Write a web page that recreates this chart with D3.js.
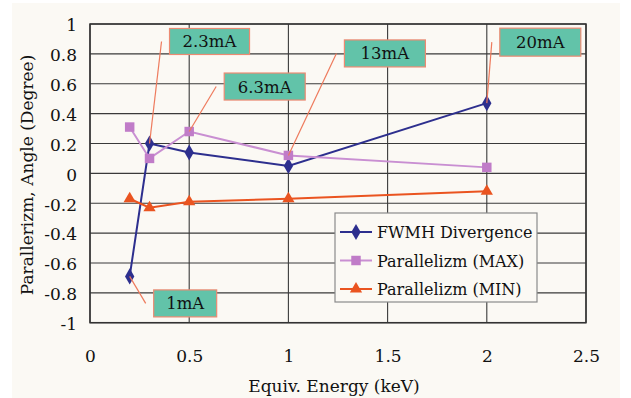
<!DOCTYPE html>
<html>
<head>
<meta charset="utf-8">
<script src="https://cdn.jsdelivr.net/npm/d3@7"></script>
<style>
  body { margin: 0; background: #ffffff; }
  svg text { font-family: "DejaVu Serif", serif; fill: #111; }
</style>
</head>
<body>
<div id="chart"></div>
<script>
// data
var energy = [0.2, 0.3, 0.5, 1, 2];
var fwmh = [-0.69, 0.2, 0.14, 0.05, 0.47];
var parMax = [0.31, 0.1, 0.28, 0.12, 0.04];
var parMin = [-0.17, -0.23, -0.19, -0.17, -0.12];
var seriesNames = ["FWMH Divergence", "Parallelizm (MAX)", "Parallelizm (MIN)"];
var xTicks = [0, 0.5, 1, 1.5, 2, 2.5];
var yTicks = [-1, -0.8, -0.6, -0.4, -0.2, 0, 0.2, 0.4, 0.6, 0.8, 1];
var currentLabels = ["1mA", "2.3mA", "6.3mA", "13mA", "20mA"];
var currentSeries = [0, 0, 1, 1, 0];   // which series each label points at
var currentIndex = [0, 1, 2, 3, 4];

// callout box placement (pixels, relative to the marker)
var calloutLayout = [
  {dx: 24, dy: 27, w: 63, h: 27},
  {dx: 20, dy: -102, w: 80, h: 26},
  {dx: 35, dy: -45, w: 81, h: 27},
  {dx: 56, dy: -102, w: 81, h: 27},
  {dx: 13, dy: -61, w: 81, h: 28}
];

var width = 631, height = 398;
var margin = {top: 24, right: 45, bottom: 75, left: 90};
var fs = 17;

var svg = d3.select("#chart").append("svg")
    .attr("width", width)
    .attr("height", height);

svg.append("rect")
    .attr("x", 12).attr("y", 3)
    .attr("width", 608).attr("height", 395)
    .attr("fill", "#fbf9f4");

var x = d3.scaleLinear().domain([0, 2.5]).range([margin.left, 586]);
var y = d3.scaleLinear().domain([-1, 1]).range([322.7, margin.top]);

var grid = svg.append("g");
grid.selectAll(".hgrid")
    .data(yTicks)
    .enter().append("line")
    .attr("x1", x(0)).attr("x2", x(2.5))
    .attr("y1", function(d) { return y(d); })
    .attr("y2", function(d) { return y(d); })
    .attr("stroke", "#3a3a3a")
    .attr("stroke-width", 1.1);
grid.selectAll(".vgrid")
    .data(xTicks)
    .enter().append("line")
    .attr("y1", y(-1)).attr("y2", y(1))
    .attr("x1", function(d) { return x(d); })
    .attr("x2", function(d) { return x(d); })
    .attr("stroke", "#3a3a3a")
    .attr("stroke-width", 1.1);

svg.append("rect")
    .attr("x", x(0)).attr("y", y(1))
    .attr("width", x(2.5) - x(0)).attr("height", y(-1) - y(1))
    .attr("fill", "none")
    .attr("stroke", "#333")
    .attr("stroke-width", 1.5);

// tick labels via d3 axes, lines hidden (plain hyphen minus like the original)
var yAxis = svg.append("g")
    .attr("transform", "translate(" + (margin.left - 13) + ",0)")
    .call(d3.axisLeft(y).tickValues(yTicks).tickSize(0).tickPadding(0)
      .tickFormat(function(d) { return String(+d.toFixed(1)); }));
yAxis.select(".domain").remove();
yAxis.selectAll("text")
    .attr("font-size", fs)
    .attr("dy", "0.4em");

var xAxis = svg.append("g")
    .attr("transform", "translate(0,362)")
    .call(d3.axisBottom(x).tickValues(xTicks).tickSize(0).tickPadding(0)
      .tickFormat(function(d) { return String(d); }));
xAxis.select(".domain").remove();
xAxis.selectAll("text")
    .attr("font-size", fs)
    .attr("dy", 0);

svg.append("text")
    .attr("x", 334).attr("y", 392)
    .attr("text-anchor", "middle")
    .attr("font-size", fs)
    .text("Equiv. Energy (keV)");

svg.append("text")
    .attr("transform", "translate(33," + 175 + ") rotate(-90)")
    .attr("text-anchor", "middle")
    .attr("font-size", fs)
    .text("Parallerizm, Angle (Degree)");

var series = [
  {name: seriesNames[0], values: fwmh, color: "#2d2f8e", line: "#2d2f8e", shape: d3.symbolDiamond, size: 75},
  {name: seriesNames[1], values: parMax, color: "#c07cc8", line: "#c98fd2", shape: d3.symbolSquare, size: 90},
  {name: seriesNames[2], values: parMin, color: "#ea5420", line: "#ea5420", shape: d3.symbolTriangle, size: 65}
];

var line = d3.line()
    .x(function(d) { return x(d[0]); })
    .y(function(d) { return y(d[1]); });

series.forEach(function(s) {
  var pts = energy.map(function(e, i) { return [e, s.values[i]]; });
  svg.append("path")
      .attr("d", line(pts))
      .attr("fill", "none")
      .attr("stroke", s.line)
      .attr("stroke-width", 2);
});

series.forEach(function(s) {
  var pts = energy.map(function(e, i) { return [e, s.values[i]]; });
  svg.selectAll(null)
      .data(pts)
      .enter().append("path")
      .attr("transform", function(d) { return "translate(" + x(d[0]) + "," + y(d[1]) + ")"; })
      .attr("d", d3.symbol().type(s.shape).size(s.size))
      .attr("fill", s.color);
});

// current callouts
var callouts = svg.append("g");
currentLabels.forEach(function(lbl, i) {
  var s = series[currentSeries[i]];
  var px = x(energy[currentIndex[i]]), py = y(s.values[currentIndex[i]]);
  var c = calloutLayout[i];
  var bx = px + c.dx, by = py + c.dy - c.h / 2;
  callouts.append("line")
      .attr("x1", px).attr("y1", py)
      .attr("x2", bx - 8).attr("y2", py + c.dy)
      .attr("stroke", "#ee7a5c")
      .attr("stroke-width", 1.2);
  callouts.append("rect")
      .attr("x", bx).attr("y", by)
      .attr("width", c.w).attr("height", c.h)
      .attr("fill", "#62c3a9")
      .attr("stroke", "#ec8a72")
      .attr("stroke-width", 1.2);
  callouts.append("text")
      .attr("x", bx + c.w / 2).attr("y", by + c.h / 2 + 6)
      .attr("text-anchor", "middle")
      .attr("font-size", 16.5)
      .text(lbl);
});

// legend
var legend = svg.append("g").attr("transform", "translate(335,213)");
legend.append("rect")
    .attr("width", 202).attr("height", 89)
    .attr("fill", "#fbf9f4")
    .attr("stroke", "#8a8a8a")
    .attr("stroke-width", 1.2);
var item = legend.selectAll(".item")
    .data(series)
    .enter().append("g")
    .attr("transform", function(d, i) { return "translate(0," + (19 + i * 28.5) + ")"; });
item.append("line")
    .attr("x1", 5).attr("x2", 37)
    .attr("stroke", function(d) { return d.line; })
    .attr("stroke-width", 2);
item.append("path")
    .attr("transform", "translate(21,0)")
    .attr("d", function(d) { return d3.symbol().type(d.shape).size(d.size)(); })
    .attr("fill", function(d) { return d.color; });
item.append("text")
    .attr("x", 42).attr("y", 6)
    .attr("font-size", 16)
    .text(function(d) { return d.name; });
</script>
</body>
</html>
